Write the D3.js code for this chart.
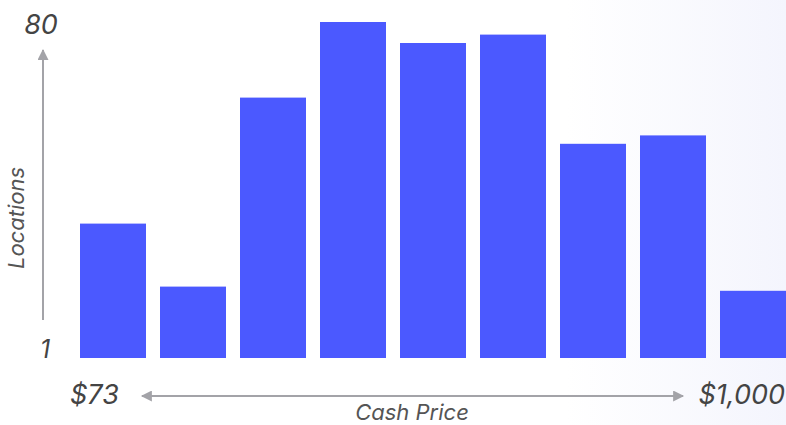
<!DOCTYPE html>
<html>
<head>
<meta charset="utf-8">
<script src="https://cdn.jsdelivr.net/npm/d3@7"></script>
<style>
  body { margin: 0; background: #fff; }
  text { font-family: Inter, "DejaVu Sans", sans-serif; font-style: italic; fill: #444; }
</style>
</head>
<body>
<div id="chart"></div>
<script>
// price buckets from $73 to $1,000, count of locations in each
const buckets = ['b1', 'b2', 'b3', 'b4', 'b5', 'b6', 'b7', 'b8', 'b9'];
const counts = [32, 17, 62, 80, 75, 77, 51, 53, 16];
const yTicks = [1, 80];
const xTicks = ['$73', '$1,000'];

var W = 786, H = 425;

var svg = d3.select('#chart').append('svg')
  .attr('width', W)
  .attr('height', H);

var defs = svg.append('defs');
var grad = defs.append('linearGradient').attr('id', 'bg')
  .attr('x1', '0').attr('x2', '1').attr('y1', '0').attr('y2', '0');
grad.append('stop').attr('offset', '0.72').attr('stop-color', '#ffffff');
grad.append('stop').attr('offset', '1').attr('stop-color', '#f4f5fd');

defs.append('marker')
  .attr('id', 'arrowGray')
  .attr('viewBox', '0 0 10 10')
  .attr('refX', 9).attr('refY', 5)
  .attr('markerWidth', 15).attr('markerHeight', 11)
  .attr('markerUnits', 'userSpaceOnUse')
  .attr('orient', 'auto-start-reverse')
  .append('path')
  .attr('d', 'M0,0 L10,5 L0,10 Z')
  .attr('fill', '#a3a3a8');

svg.append('rect').attr('width', W).attr('height', H).attr('fill', 'url(#bg)');

var x = d3.scaleBand()
  .domain(buckets)
  .range([80, 786])
  .paddingInner(14 / 80)
  .paddingOuter(0);

var y = d3.scaleLinear()
  .domain([0, 80])
  .range([358, 22]);

svg.append('g').selectAll('rect')
  .data(counts)
  .enter()
  .append('rect')
  .attr('x', (d, i) => x(buckets[i]))
  .attr('y', d => y(d))
  .attr('width', x.bandwidth())
  .attr('height', d => y(0) - y(d))
  .attr('fill', '#4b59ff');

// y axis arrow
svg.append('line')
  .attr('x1', 43).attr('x2', 43)
  .attr('y1', 320).attr('y2', 50)
  .attr('stroke', '#a3a3a8').attr('stroke-width', 2)
  .attr('marker-end', 'url(#arrowGray)');

svg.append('text')
  .attr('x', 41).attr('y', 34)
  .attr('text-anchor', 'middle')
  .style('font-size', '27px')
  .text(yTicks[1]);

svg.append('text')
  .attr('x', 45).attr('y', 358)
  .attr('text-anchor', 'middle')
  .style('font-size', '25px')
  .text(yTicks[0]);

svg.append('text')
  .attr('transform', 'translate(24,218) rotate(-90)')
  .attr('text-anchor', 'middle')
  .style('font-size', '22px')
  .style('fill', '#555')
  .text('Locations');

// x axis arrow
svg.append('line')
  .attr('x1', 142).attr('x2', 683)
  .attr('y1', 396).attr('y2', 396)
  .attr('stroke', '#a3a3a8').attr('stroke-width', 2)
  .attr('marker-start', 'url(#arrowGray)')
  .attr('marker-end', 'url(#arrowGray)');

svg.append('text')
  .attr('x', 70).attr('y', 404)
  .style('font-size', '27px')
  .text(xTicks[0]);

svg.append('text')
  .attr('x', 785).attr('y', 404)
  .attr('text-anchor', 'end')
  .style('font-size', '27px')
  .text(xTicks[1]);

svg.append('text')
  .attr('x', 412).attr('y', 420)
  .attr('text-anchor', 'middle')
  .style('font-size', '22px')
  .style('fill', '#555')
  .text('Cash Price');
</script>
</body>
</html>
